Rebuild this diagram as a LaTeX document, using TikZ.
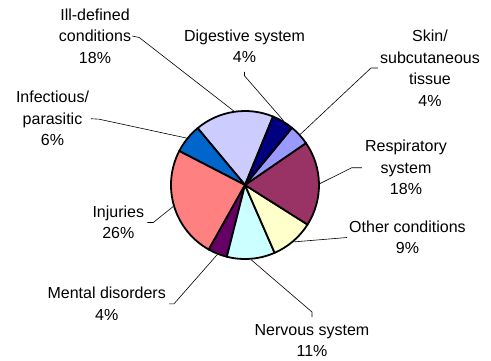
\documentclass[tikz,border=0pt]{standalone}
\usepackage{fontspec}
\setmainfont{Liberation Sans}
\usepackage{tikz}
\definecolor{illdef}{HTML}{CCCCFF}
\definecolor{infect}{HTML}{0066CC}
\definecolor{injury}{HTML}{FF8080}
\definecolor{mental}{HTML}{660066}
\definecolor{nervous}{HTML}{CCFFFF}
\definecolor{othercond}{HTML}{FFFFCC}
\definecolor{resp}{HTML}{993366}
\definecolor{skin}{HTML}{9999FF}
\definecolor{digest}{HTML}{000080}

\begin{document}
\begin{tikzpicture}[x=1pt, y=1pt,
    lbl/.style={align=center, inner sep=0pt, font=\fontsize{16}{21.5}\selectfont},
    leader/.style={line width=0.6pt}]
    \useasboundingbox (-245,-175) rectangle (246,185);
    % slices, anticlockwise
    \foreach \from/\to/\col in {67.7/129.8/illdef, 129.8/152.7/infect, 152.7/240.7/injury,
        240.7/255.8/mental, 255.8/293.6/nervous, 293.6/327.7/othercond,
        327.7/394.5/resp, 394.5/410.6/skin, 410.6/427.7/digest}{
        \filldraw[fill=\col, line width=1.8pt, line join=round] (0,0) -- (\from:74) arc (\from:\to:74) -- cycle;
    }
    \foreach \n/\a in {ill/98.75, inf/141.25, inj/196.7, ment/248.25, nerv/274.7,
        other/310.65, resp/1.1, skin/42.5, dig/59.15}{
        \coordinate (\n-rim) at (\a:75);
    }
    \node[lbl] (ill) at (-150,149) {Ill-defined\\conditions\\18\%};
    \node[lbl] (dig) at (-0.5,139) {Digestive system\\4\%};
    \node[lbl] (skin) at (185,117) {Skin/\\subcutaneous\\tissue\\4\%};
    \node[lbl] (resp) at (161,17.3) {Respiratory\\system\\18\%};
    \node[lbl] (other) at (162.5,-52.5) {Other conditions\\9\%};
    \node[lbl] (nerv) at (67,-155.5) {Nervous system\\11\%};
    \node[lbl] (ment) at (-138.3,-118.8) {Mental disorders\\4\%};
    \node[lbl] (inj) at (-126.7,-37.5) {Injuries\\26\%};
    \node[lbl] (inf) at (-192.5,66.3) {Infectious/\\parasitic\\6\%};
    \draw[leader] ([xshift=1pt]ill.east) -- ++(7,-1.5) -- (ill-rim);
    \draw[leader] ([yshift=-9pt]dig.south) -- ++(0,-4) -- (dig-rim);
    \draw[leader] ([xshift=-2pt]skin.west) -- ++(-7,0) -- (skin-rim);
    \draw[leader] ([xshift=-3pt]resp.west) -- ++(-10,0) -- (resp-rim);
    \draw[leader] ([xshift=-2pt]other.west) -- (other-rim);
    \draw[leader] ([yshift=7pt]nerv.north) -- ++(0,5) -- (nerv-rim);
    \draw[leader] ([xshift=3pt]ment.east) -- ++(5,0) -- (ment-rim);
    \draw[leader] ([xshift=3pt]inj.east) -- ++(6,0) -- (inj-rim);
    \draw[leader] ([xshift=2pt]inf.east) -- ++(8,-0.5) -- (inf-rim);
\end{tikzpicture}
\end{document}
